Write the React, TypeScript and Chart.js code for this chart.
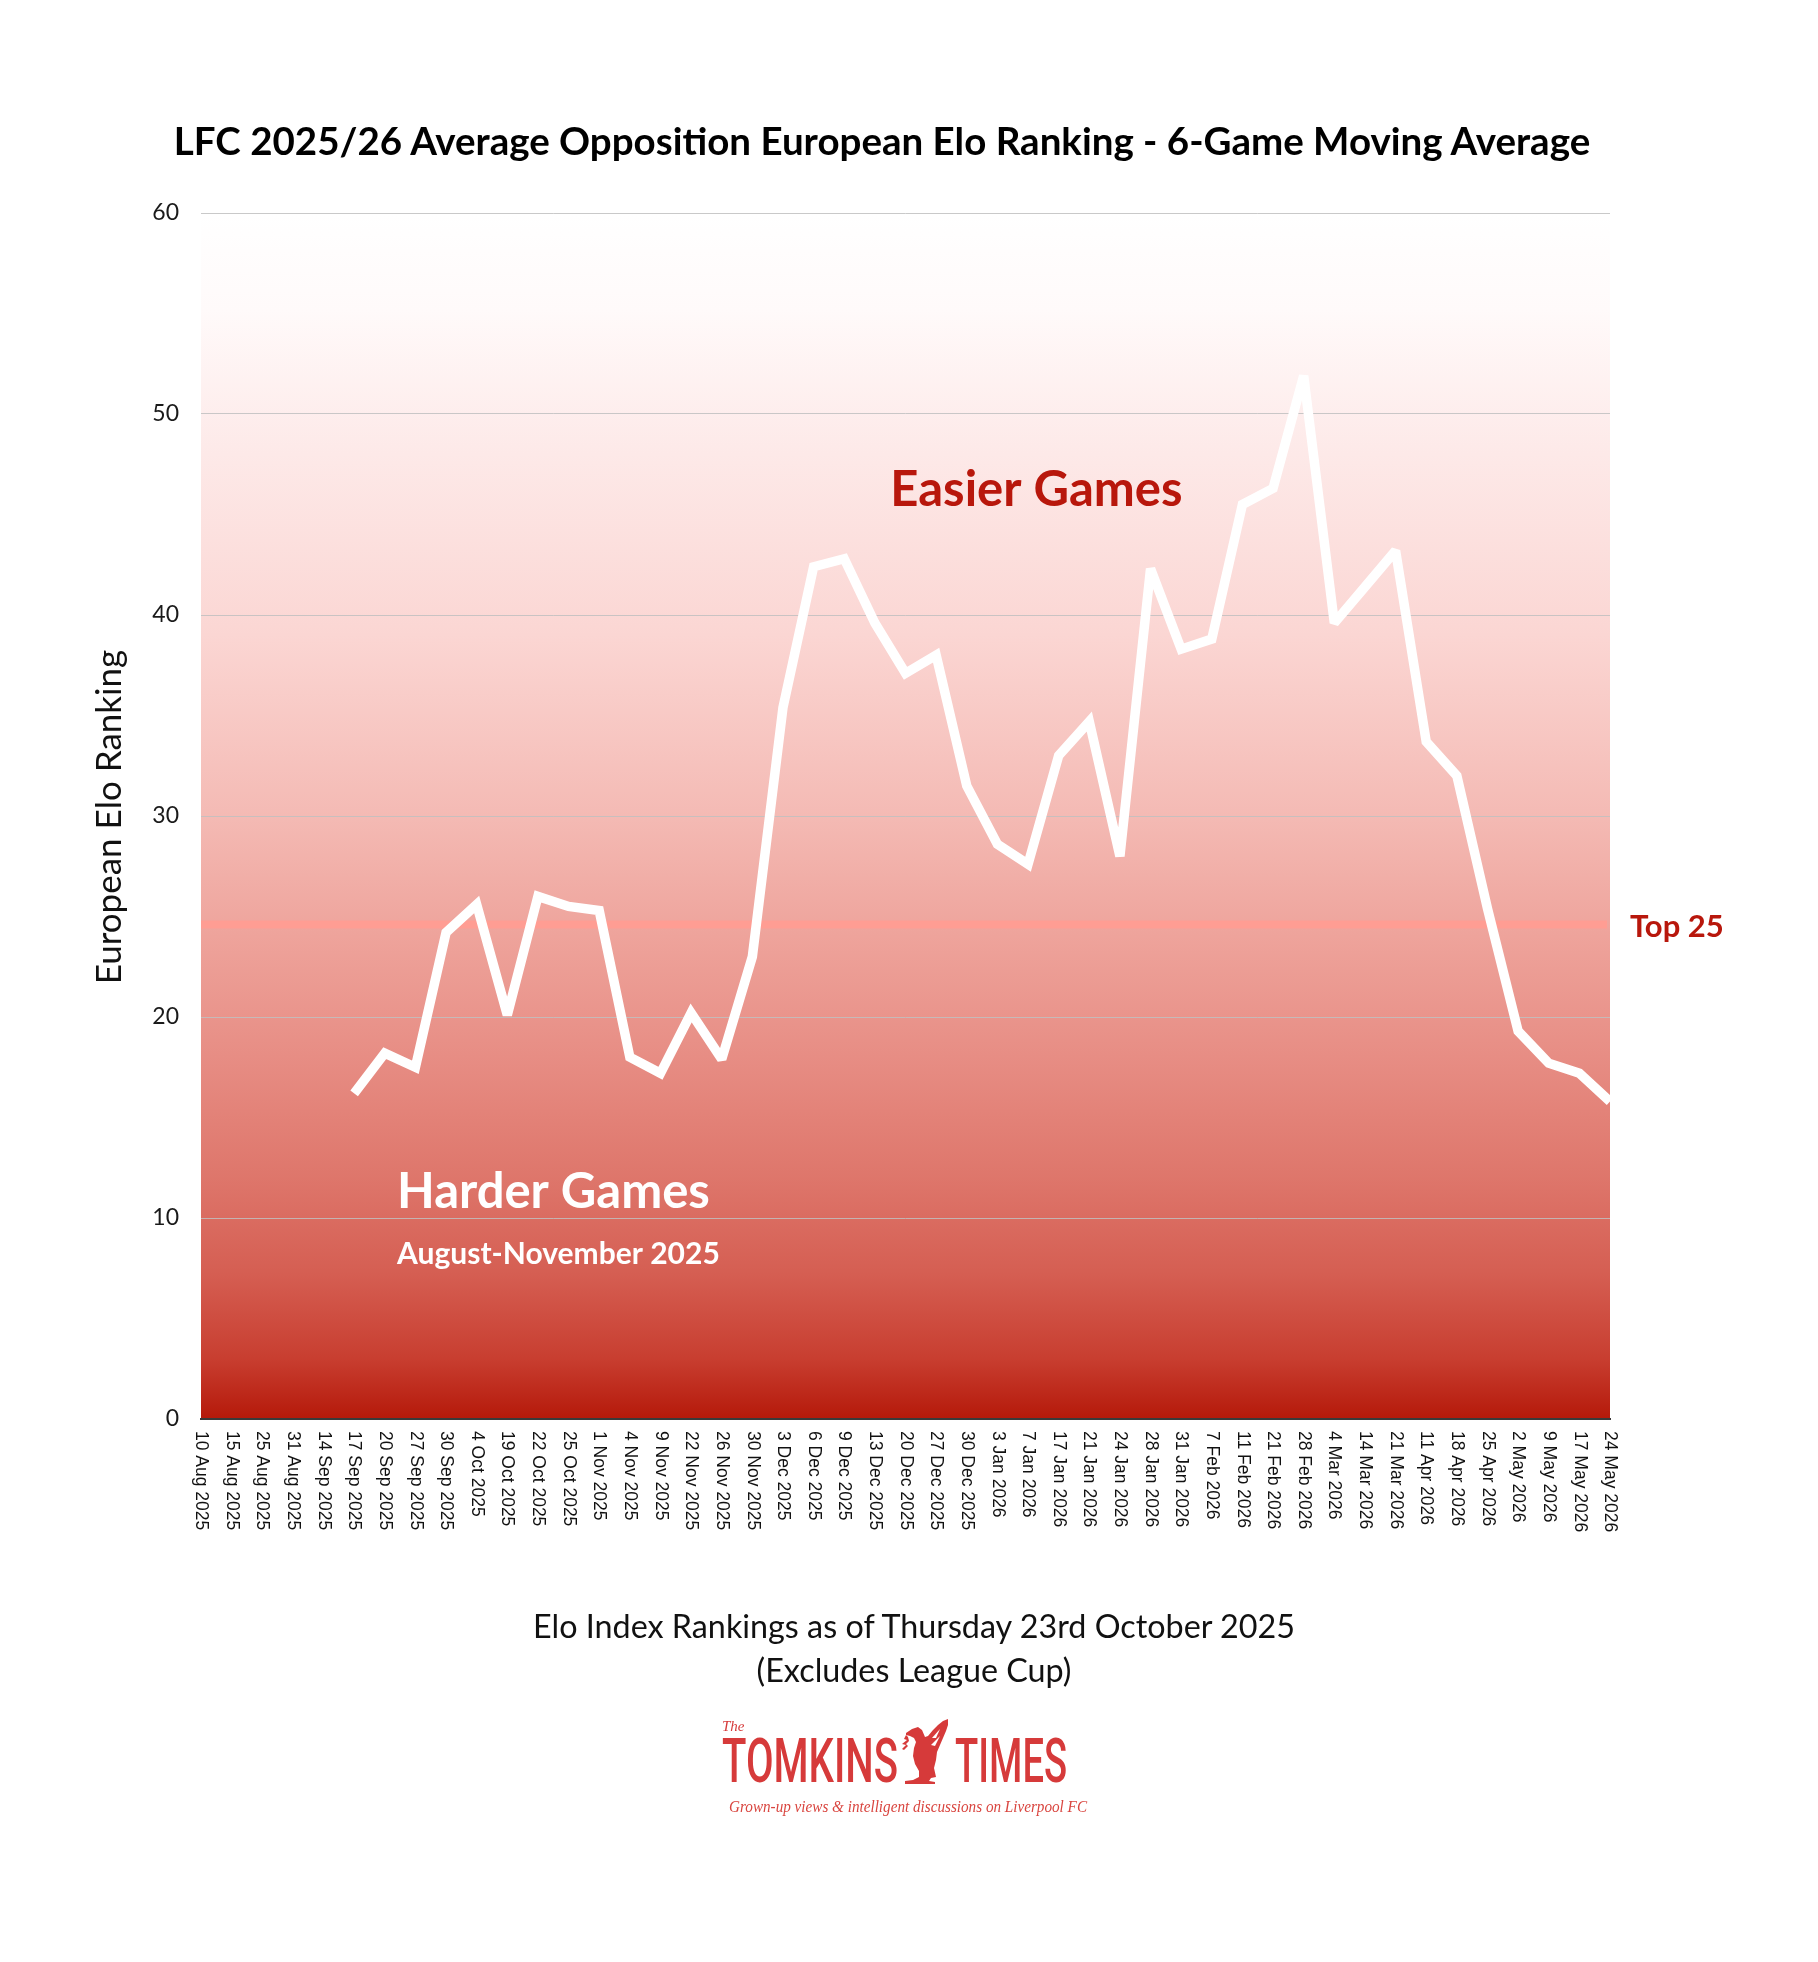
import React, { useEffect, useRef } from 'react';
import { Chart, registerables } from 'chart.js';

Chart.register(...registerables);

// ---------- data ----------
const dateLabels: string[] = [
  '10 Aug 2025', '15 Aug 2025', '25 Aug 2025', '31 Aug 2025', '14 Sep 2025', '17 Sep 2025',
  '20 Sep 2025', '27 Sep 2025', '30 Sep 2025', '4 Oct 2025', '19 Oct 2025', '22 Oct 2025',
  '25 Oct 2025', '1 Nov 2025', '4 Nov 2025', '9 Nov 2025', '22 Nov 2025', '26 Nov 2025',
  '30 Nov 2025', '3 Dec 2025', '6 Dec 2025', '9 Dec 2025', '13 Dec 2025', '20 Dec 2025',
  '27 Dec 2025', '30 Dec 2025', '3 Jan 2026', '7 Jan 2026', '17 Jan 2026', '21 Jan 2026',
  '24 Jan 2026', '28 Jan 2026', '31 Jan 2026', '7 Feb 2026', '11 Feb 2026', '21 Feb 2026',
  '28 Feb 2026', '4 Mar 2026', '14 Mar 2026', '21 Mar 2026', '11 Apr 2026', '18 Apr 2026',
  '25 Apr 2026', '2 May 2026', '9 May 2026', '17 May 2026', '24 May 2026',
];

const movingAverage: (number | null)[] = [
  null, null, null, null, null, 16.2,
  18.2, 17.5, 24.2, 25.6, 20.1, 26.0,
  25.5, 25.3, 18.0, 17.2, 20.2, 17.9,
  23.0, 35.4, 42.4, 42.8, 39.6, 37.1,
  38.0, 31.5, 28.6, 27.6, 33.0, 34.7,
  28.0, 42.3, 38.3, 38.8, 45.5, 46.3,
  51.9, 39.6, 41.4, 43.2, 33.7, 32.0,
  25.4, 19.3, 17.7, 17.2, 15.8,
];

const yMin = 0;
const yMax = 60;
const yStep = 10;
const top25Level = 24.6;

const titleText = 'LFC 2025/26 Average Opposition European Elo Ranking - 6-Game Moving Average';
const yAxisTitle = 'European Elo Ranking';
const footnoteLines = ['Elo Index Rankings as of Thursday 23rd October 2025', '(Excludes League Cup)'];

// ---------- layout constants ----------
const W = 1818;
const H = 1962;
const AREA_LEFT = 201;
const AREA_RIGHT = 1610;
const AREA_TOP = 213;
const AREA_BOTTOM = 1419;
const DARK_RED = '#b8170c';

const decorPlugin = {
  id: 'decor',
  beforeDraw(chart: any) {
    const { ctx, chartArea } = chart;
    const g = ctx.createLinearGradient(0, chartArea.top, 0, chartArea.bottom);
    g.addColorStop(0, '#ffffff');
    g.addColorStop(0.08, '#fffafa');
    g.addColorStop(0.2, '#fde9e8');
    g.addColorStop(0.35, '#fbd6d3');
    g.addColorStop(0.5, '#f4bab4');
    g.addColorStop(0.6, '#eea39b');
    g.addColorStop(0.7, '#e78d84');
    g.addColorStop(0.8, '#de766b');
    g.addColorStop(0.88, '#d55e52');
    g.addColorStop(0.95, '#c83e30');
    g.addColorStop(1, '#b5190a');
    ctx.save();
    ctx.fillStyle = g;
    ctx.fillRect(chartArea.left, chartArea.top, chartArea.right - chartArea.left, chartArea.bottom - chartArea.top);
    ctx.restore();
  },
  beforeDatasetsDraw(chart: any) {
    const { ctx, chartArea, scales } = chart;
    const y = scales.y.getPixelForValue(top25Level);
    ctx.save();
    ctx.strokeStyle = 'rgba(255,156,146,0.95)';
    ctx.lineWidth = 8;
    ctx.beginPath();
    ctx.moveTo(chartArea.left, y);
    ctx.lineTo(chartArea.right - 3, y);
    ctx.stroke();
    ctx.restore();
    // keep sharp joins from spiking too far, like the original
    ctx.miterLimit = 2.2;
  },
  afterDatasetsDraw(chart: any) {
    chart.ctx.miterLimit = 10;
  },
  afterDraw(chart: any) {
    const { ctx, chartArea, scales } = chart;
    const xs = scales.x;
    const ys = scales.y;
    ctx.save();
    // x tick labels, rotated to read downward
    ctx.font = '17.5px "Liberation Sans", Arial, sans-serif';
    ctx.fillStyle = '#111';
    ctx.textAlign = 'left';
    ctx.textBaseline = 'middle';
    dateLabels.forEach((lab, i) => {
      const x = xs.getPixelForValue(i);
      ctx.save();
      ctx.translate(x, chartArea.bottom + 12);
      ctx.rotate(Math.PI / 2);
      ctx.fillText(lab, 0, 0);
      ctx.restore();
    });
    // y axis title
    ctx.save();
    ctx.translate(110, (chartArea.top + chartArea.bottom) / 2 + 1);
    ctx.rotate(-Math.PI / 2);
    ctx.font = '400 35px Lato, sans-serif';
    ctx.fillStyle = '#111';
    ctx.textAlign = 'center';
    ctx.textBaseline = 'middle';
    ctx.fillText(yAxisTitle, 0, 0);
    ctx.restore();
    // annotations
    ctx.textAlign = 'left';
    ctx.textBaseline = 'middle';
    ctx.font = '700 49px Lato, sans-serif';
    ctx.fillStyle = DARK_RED;
    ctx.fillText('Easier Games', xs.getPixelForValue(22.5), ys.getPixelForValue(46.2));
    ctx.fillStyle = '#ffffff';
    ctx.fillText('Harder Games', xs.getPixelForValue(6.4), ys.getPixelForValue(11.3));
    ctx.font = '700 30px Lato, sans-serif';
    ctx.fillText('August-November 2025', xs.getPixelForValue(6.4), ys.getPixelForValue(8.2));
    ctx.font = '700 31px Lato, sans-serif';
    ctx.fillStyle = DARK_RED;
    ctx.fillText('Top 25', chartArea.right + 20, ys.getPixelForValue(top25Level) + 2);
    ctx.restore();
  },
};

function Logo() {
  const red = '#d63a3a';
  return (
    <svg
      width={420}
      height={125}
      viewBox="0 0 420 125"
      style={{ position: 'absolute', left: 700, top: 1700 }}
    >
      <text x={22} y={31} fontFamily="'Liberation Serif', serif" fontStyle="italic" fontSize={15} fill={red}>
        The
      </text>
      <text
        x={22}
        y={82}
        fontFamily="Roboto, 'Liberation Sans', sans-serif"
        fontWeight={500}
        fontSize={62}
        fill={red}
        textLength={176}
        lengthAdjust="spacingAndGlyphs"
      >
        TOMKINS
      </text>
      <g fill={red}>
        {/* stylised liver bird */}
        <path d="M206 33 L212 29 L218 27 L222 30 L225 37 L228 36 L233 30 L238 25 L243 21 L248 19 L248 25 L246 31 L243 38 L240 45 L237 52 L236 60 L234 68 L236 77 L231 78 L229 81 L235 82 L235 84 L205 84 L205 81 L213 80 L219 77 L219 71 L215 64 L213 56 L214 48 L216 42 L214 38 L210 36 L206 35 Z" />
        <path d="M206 35 L204 39 L207 40 L202 44 L206 45 L202 49 L204 50 L208 46 L206 44 L209 41 L208 37 Z" />
      </g>
      <g fill="#ffffff">
        <path d="M232 38 L240 29 L236 38 Z" />
        <path d="M231 45 L240 36 L235 46 Z" />
      </g>
      <text
        x={255}
        y={82}
        fontFamily="Roboto, 'Liberation Sans', sans-serif"
        fontWeight={500}
        fontSize={62}
        fill={red}
        textLength={112}
        lengthAdjust="spacingAndGlyphs"
      >
        TIMES
      </text>
      <text
        x={29}
        y={112}
        fontFamily="'Liberation Serif', serif"
        fontStyle="italic"
        fontSize={17}
        fill="#d9453f"
        textLength={358}
        lengthAdjust="spacingAndGlyphs"
      >
        Grown-up views &amp; intelligent discussions on Liverpool FC
      </text>
    </svg>
  );
}

export default function App() {
  const canvasRef = useRef<HTMLCanvasElement | null>(null);

  useEffect(() => {
    if (!canvasRef.current) return;
    const chart = new Chart(canvasRef.current, {
      type: 'line',
      data: {
        labels: dateLabels,
        datasets: [
          {
            label: '6-Game Moving Average',
            data: movingAverage,
            borderColor: '#ffffff',
            borderWidth: 9.5,
            borderJoinStyle: 'miter',
            borderCapStyle: 'butt',
            pointRadius: 0,
            tension: 0,
            fill: false,
          },
        ],
      },
      options: {
        animation: false,
        responsive: false,
        devicePixelRatio: 1,
        layout: {
          padding: { left: 0, top: AREA_TOP, right: W - AREA_RIGHT, bottom: 0 },
        },
        plugins: {
          legend: { display: false },
          tooltip: { enabled: false },
          title: { display: false },
        },
        scales: {
          x: {
            type: 'category',
            offset: false,
            grid: { display: false, drawTicks: false },
            border: { display: true, color: '#3a3a3a', width: 2 },
            ticks: { display: false },
            afterFit: (s: any) => {
              s.height = H - AREA_BOTTOM;
            },
          },
          y: {
            min: yMin,
            max: yMax,
            ticks: {
              stepSize: yStep,
              padding: 22,
              color: '#1a1a1a',
              font: { family: 'Lato, sans-serif', size: 23 },
            },
            grid: { color: 'rgba(192,192,192,0.85)', lineWidth: 1, drawTicks: false },
            border: { display: false },
            afterFit: (s: any) => {
              s.width = AREA_LEFT;
            },
          },
        },
      },
      plugins: [decorPlugin],
    });
    return () => chart.destroy();
  }, []);

  return (
    <div
      style={{
        position: 'absolute',
        left: 0,
        top: 0,
        width: W,
        height: H,
        background: '#ffffff',
        overflow: 'hidden',
      }}
    >
      <canvas ref={canvasRef} width={W} height={H} style={{ position: 'absolute', left: 0, top: 0, width: W, height: H }} />
      <div
        style={{
          position: 'absolute',
          left: 882,
          top: 140,
          transform: 'translate(-50%, -50%)',
          whiteSpace: 'nowrap',
          fontFamily: 'Lato, sans-serif',
          fontWeight: 700,
          fontSize: 38.5,
          color: '#000',
        }}
      >
        {titleText}
      </div>
      {footnoteLines.map((line, i) => (
        <div
          key={i}
          style={{
            position: 'absolute',
            left: 914,
            top: 1625 + i * 44,
            transform: 'translate(-50%, -50%)',
            whiteSpace: 'nowrap',
            fontFamily: 'Lato, sans-serif',
            fontWeight: 400,
            fontSize: 32.3,
            color: '#111',
          }}
        >
          {line}
        </div>
      ))}
      <Logo />
    </div>
  );
}
